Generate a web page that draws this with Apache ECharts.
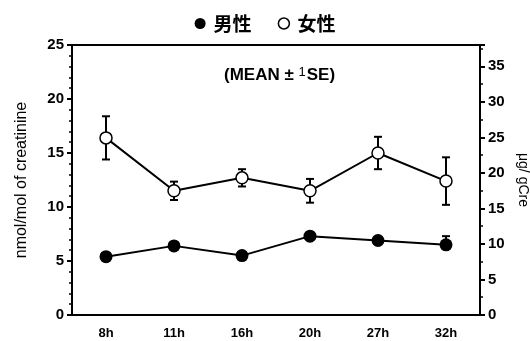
<!DOCTYPE html>
<html>
<head>
<meta charset="utf-8">
<script src="https://cdn.jsdelivr.net/npm/echarts@6/dist/echarts.min.js"></script>
<style>
  html, body { margin: 0; padding: 0; background: #fff; }
  #chart { width: 530px; height: 341px; }
</style>
</head>
<body>
<div id="chart"></div>
<script>
// Sampling times
const categories = ['8h', '11h', '16h', '20h', '27h', '32h'];

// Male: mean and standard error (nmol/mol of creatinine)
const maleMean = [5.4, 6.4, 5.5, 7.3, 6.9, 6.5];
const maleSE   = [0.3, 0.3, 0.3, 0.3, 0.3, 0.8];

// Female: mean and standard error (nmol/mol of creatinine)
const femaleMean = [16.4, 11.5, 12.7, 11.5, 15.0, 12.4];
const femaleSE   = [2.0, 0.85, 0.8, 1.1, 1.5, 2.2];

// Axis ranges
const leftMax = 25;
const rightMax = 38;

const FONT = '"Liberation Sans", Arial, sans-serif';
const CJK = '"Noto Sans CJK JP", "Noto Sans CJK SC", sans-serif';

// Error bars with caps; the male bars are drawn upward only
function errorBarSeries(mean, se, upperOnly) {
  const data = mean.map((m, i) => [i, upperOnly ? m : m - se[i], m + se[i]]);
  return {
    type: 'custom',
    silent: true,
    z: 1,
    data: data,
    encode: { x: 0, y: [1, 2] },
    renderItem: function (params, api) {
      const lo = api.coord([api.value(0), api.value(1)]);
      const hi = api.coord([api.value(0), api.value(2)]);
      const cap = 4;
      const style = { stroke: '#000', lineWidth: 2 };
      const children = [
        { type: 'line', shape: { x1: lo[0], y1: lo[1], x2: hi[0], y2: hi[1] }, style: style },
        { type: 'line', shape: { x1: hi[0] - cap, y1: hi[1], x2: hi[0] + cap, y2: hi[1] }, style: style }
      ];
      if (!upperOnly) {
        children.push({ type: 'line', shape: { x1: lo[0] - cap, y1: lo[1], x2: lo[0] + cap, y2: lo[1] }, style: style });
      }
      return { type: 'group', children: children };
    }
  };
}

const chart = echarts.init(document.getElementById('chart'), null, { renderer: 'canvas' });

chart.setOption({
  animation: false,
  backgroundColor: '#fff',
  title: {
    text: '(MEAN ± {s|1}SE)',
    left: 219,
    top: 61,
    textStyle: {
      fontFamily: FONT,
      fontSize: 17,
      fontWeight: 'bold',
      color: '#000',
      rich: {
        s: { fontFamily: FONT, fontSize: 13, fontWeight: 'normal', color: '#000', padding: [0, 1, 5, 0] }
      }
    }
  },
  legend: {
    top: 9,
    left: 'center',
    itemWidth: 11,
    itemHeight: 11,
    itemGap: 26,
    textStyle: { fontFamily: CJK, fontSize: 19, fontWeight: 'bold', color: '#000', padding: [0, 0, 0, 3] },
    data: [
      { name: '男性', icon: 'circle', itemStyle: { color: '#000', borderWidth: 0 } },
      { name: '女性', icon: 'circle', itemStyle: { color: '#fff', borderColor: '#000', borderWidth: 1.5 } }
    ]
  },
  grid: {
    left: 72, right: 50, top: 45, bottom: 26,
    containLabel: false,
    outerBoundsMode: 'none',
    show: true, borderColor: '#000', borderWidth: 2, backgroundColor: 'transparent'
  },
  xAxis: {
    type: 'category',
    data: categories,
    boundaryGap: true,
    axisLine: { lineStyle: { color: '#000', width: 2 } },
    axisTick: { alignWithLabel: true, length: 3, lineStyle: { color: '#000', width: 2 } },
    axisLabel: { fontFamily: FONT, fontSize: 13, fontWeight: 'bold', color: '#000', margin: 12 },
    splitLine: { show: false }
  },
  yAxis: [
    {
      type: 'value',
      min: 0, max: leftMax, interval: 5,
      position: 'left',
      name: 'nmol/mol of creatinine',
      nameLocation: 'middle',
      nameRotate: 90,
      nameGap: 42,
      nameTextStyle: { fontFamily: FONT, fontSize: 16, color: '#000' },
      axisLine: { show: true, lineStyle: { color: '#000', width: 2 } },
      axisTick: { show: true, length: 5, lineStyle: { color: '#000', width: 2 } },
      minorTick: { show: true, splitNumber: 5, length: 3, lineStyle: { color: '#000', width: 1.5 } },
      axisLabel: { fontFamily: FONT, fontSize: 15, fontWeight: 'bold', color: '#000', margin: 8 },
      splitLine: { show: false }
    },
    {
      type: 'value',
      min: 0, max: rightMax, interval: 5,
      position: 'right',
      name: 'μg/ gCre',
      nameLocation: 'middle',
      nameRotate: -90,
      nameGap: 34,
      nameTextStyle: { fontFamily: FONT, fontSize: 14, color: '#000' },
      axisLine: { show: true, lineStyle: { color: '#000', width: 2 } },
      axisTick: { show: true, length: 5, lineStyle: { color: '#000', width: 2 } },
      minorTick: { show: true, splitNumber: 2, length: 3, lineStyle: { color: '#000', width: 1.5 } },
      axisLabel: { fontFamily: FONT, fontSize: 15, fontWeight: 'bold', color: '#000', margin: 8,
        formatter: function (v) { return v % 5 === 0 ? String(v) : ''; } },
      splitLine: { show: false }
    }
  ],
  series: [
    errorBarSeries(femaleMean, femaleSE, false),
    errorBarSeries(maleMean, maleSE, true),
    {
      name: '女性',
      type: 'line',
      data: femaleMean,
      z: 3,
      symbol: 'circle',
      symbolSize: 12,
      lineStyle: { color: '#000', width: 2 },
      itemStyle: { color: '#fff', borderColor: '#000', borderWidth: 1.5 }
    },
    {
      name: '男性',
      type: 'line',
      data: maleMean,
      z: 3,
      symbol: 'circle',
      symbolSize: 13,
      lineStyle: { color: '#000', width: 2 },
      itemStyle: { color: '#000', borderWidth: 0 }
    }
  ]
});
</script>
</body>
</html>
